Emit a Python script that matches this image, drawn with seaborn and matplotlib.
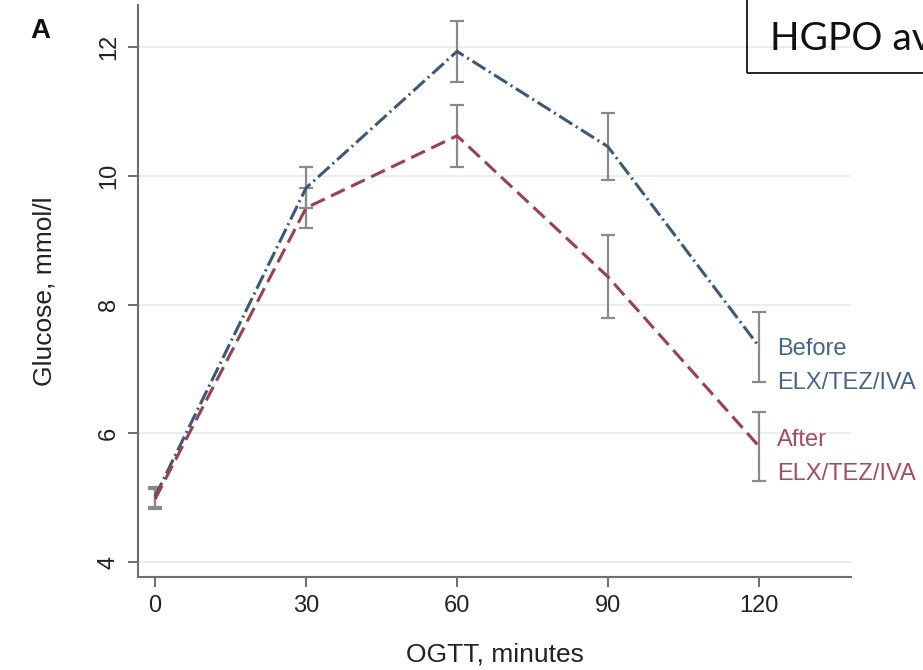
import matplotlib
matplotlib.use("Agg")
import matplotlib.pyplot as plt
import seaborn as sns
import pandas as pd
from matplotlib.patches import Rectangle

# ---- data ----
minutes = [0, 30, 60, 90, 120]
before_mean = [5.02, 9.81, 11.93, 10.45, 7.35]
before_lo = [4.86, 9.50, 11.45, 9.93, 6.80]
before_hi = [5.17, 10.13, 12.40, 10.97, 7.88]
after_mean = [4.98, 9.50, 10.62, 8.43, 5.80]
after_lo = [4.83, 9.19, 10.13, 7.79, 5.26]
after_hi = [5.14, 9.81, 11.10, 9.08, 6.33]
groups = ["Before\nELX/TEZ/IVA", "After\nELX/TEZ/IVA"]
yticks = [4, 6, 8, 10, 12]
xticks = [0, 30, 60, 90, 120]

blue = "#3b5a7a"
red = "#9c3f50"
gray = "#8a8a8a"
axcol = "#6e6e6e"

sns.set_theme(style="white")
plt.rcParams["font.family"] = ["Liberation Sans", "DejaVu Sans"]
plt.rcParams["lines.scale_dashes"] = False

fig = plt.figure(figsize=(9.23, 6.70), dpi=100)
ax = fig.add_axes([138 / 923, 1 - 577 / 670, (851 - 138) / 923, (577 - 5) / 670])

df = pd.DataFrame({
    "minutes": minutes * 2,
    "glucose": before_mean + after_mean,
    "group": [groups[0]] * 5 + [groups[1]] * 5,
})

# grid
for yv in yticks:
    ax.axhline(yv, color="#ececec", lw=1.3, zorder=0)

# error bars
ax.errorbar(minutes, before_mean,
            yerr=[[m - l for m, l in zip(before_mean, before_lo)],
                  [h - m for m, h in zip(before_mean, before_hi)]],
            fmt="none", ecolor=gray, elinewidth=1.6, capsize=4.8, capthick=1.6, zorder=2)
ax.errorbar(minutes, after_mean,
            yerr=[[m - l for m, l in zip(after_mean, after_lo)],
                  [h - m for m, h in zip(after_mean, after_hi)]],
            fmt="none", ecolor=gray, elinewidth=1.6, capsize=4.8, capthick=1.6, zorder=2)

sns.lineplot(data=df, x="minutes", y="glucose", hue="group", style="group",
             palette={groups[0]: blue, groups[1]: red},
             dashes={groups[0]: (11, 3, 1.5, 3), groups[1]: (11, 5)},
             estimator=None, lw=2.2, legend=False, ax=ax, zorder=3)

ax.set_xlim(-3.4, 138.3)
ax.set_ylim(3.77, 12.65)
ax.set_xticks(xticks)
ax.set_yticks(yticks)
ax.set_xticklabels([str(v) for v in xticks], fontsize=17, color="#222222")
ax.set_yticklabels([str(v) for v in yticks], fontsize=17, color="#222222",
                   rotation=90, va="center")
ax.tick_params(axis="both", direction="out", length=7, width=1.4, color=axcol,
               bottom=True, left=True, pad=6)
for s in ["top", "right"]:
    ax.spines[s].set_visible(False)
for s in ["left", "bottom"]:
    ax.spines[s].set_color(axcol)
    ax.spines[s].set_linewidth(1.5)

ax.set_xlabel("OGTT, minutes", fontsize=19, color="#222222", labelpad=18)
ax.set_ylabel("Glucose, mmol/l", fontsize=19, color="#222222", labelpad=30)

# end labels
ax.annotate(groups[0], xy=(minutes[-1], before_mean[-1]), xytext=(13, -14),
            textcoords="offset points", ha="left", va="center", fontsize=17,
            color="#46658a", linespacing=1.7)
ax.annotate(groups[1], xy=(minutes[-1], after_mean[-1]), xytext=(13, -8),
            textcoords="offset points", ha="left", va="center", fontsize=17,
            color="#a64c60", linespacing=1.7)

# panel letter
fig.text(40 / 923, 1 - 31 / 670, "A", fontsize=20, fontweight="bold",
         ha="center", va="center", color="#111111")

# cropped caption box at top-right
fig.patches.append(Rectangle((747 / 923, 1 - 73 / 670), 0.3, 0.3,
                             transform=fig.transFigure, fill=False,
                             edgecolor="#111111", lw=1.3))
fig.text(770 / 923, 1 - 50 / 670, "HGPO av", fontsize=28, family=["Lato", "DejaVu Sans"],
         ha="left", va="baseline", color="#111111")

fig.savefig("out.png", dpi=100)
